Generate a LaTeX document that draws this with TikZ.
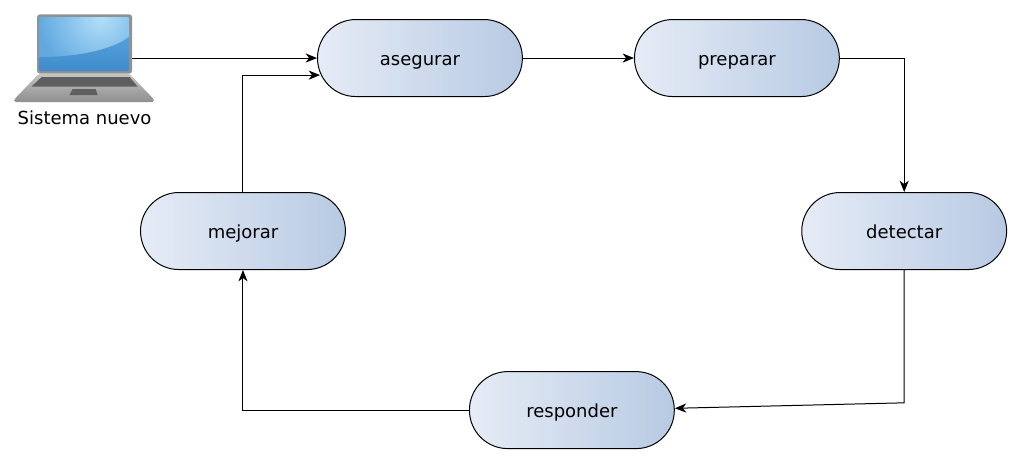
\documentclass[tikz,border=0pt]{standalone}
\usepackage{fontspec}
\setmainfont{DejaVu Sans}
\usetikzlibrary{positioning,arrows.meta}
\definecolor{PhaseLight}{HTML}{E6ECF6}
\definecolor{PhaseDark}{HTML}{B7CAE3}
\definecolor{FrameGray}{HTML}{8F9193}
\definecolor{BaseLight}{HTML}{C4C4C4}
\definecolor{BaseDark}{HTML}{8E8E8E}
\definecolor{KeyGray}{HTML}{5F5F5F}
\definecolor{ScreenLight}{HTML}{B4DFFA}
\definecolor{ScreenMid}{HTML}{62A9E0}
\definecolor{ScreenLow}{HTML}{559FDB}
\definecolor{ScreenDeep}{HTML}{3F8BCB}

\begin{document}
\begin{tikzpicture}[
  font=\fontsize{13.5}{16}\selectfont,
  on grid,
  phase/.style={draw=black, line width=0.75pt, rounded corners=1.01cm, left color=PhaseLight, right color=PhaseDark, minimum width=5.4cm, minimum height=2.03cm, text height=13.5pt, text depth=3pt},
  arrow/.style={-{Stealth[length=3mm, width=2.4mm, inset=0.9mm]}, line width=0.75pt, color=black},
  screenframe/.style={fill=FrameGray, rounded corners=2pt, minimum width=2.5cm, minimum height=1.56cm, inner sep=0pt}
]
  \useasboundingbox (-11.07,1.53) rectangle (15.87,-10.70);

  % Phases of the cycle, clockwise.
  \node[phase] (asegurar) at (0,0) {asegurar};
  \node[phase, right=8.355cm of asegurar] (preparar) {preparar};
  \node[phase, below right=4.56cm and 4.41cm of preparar] (detectar) {detectar};
  \node[phase, below left=4.72cm and 8.76cm of detectar] (responder) {responder};
  \node[phase, above left=4.72cm and 8.67cm of responder] (mejorar) {mejorar};

  % Laptop icon, pixel offsets from the middle of the screen.
  \node[screenframe, above left=0.37cm and 8.84cm of asegurar] (laptop) {};
  \begin{scope}[shift={(laptop.center)}, x=0.02636cm, y=-0.02636cm]
    \shade[top color=BaseLight, bottom color=BaseDark, rounded corners=1pt]
      (-46,30) -- (45,30) -- (69,55) -- (69,58) -- (-70,58) -- (-70,55) -- cycle;
    \fill[KeyGray] (-43,33) -- (45,33) -- (53,42.5) -- (-53,42.5) -- cycle;
    \fill[KeyGray] (-12,45) -- (11,45) -- (13,51) -- (-15,51) -- cycle;
    \begin{scope}
      \clip[rounded corners=1.5pt] (-45.5,-27) rectangle (44.5,27);
      \fill[ScreenMid] (-45.5,-27) rectangle (44.5,27);
      \shade[inner color=ScreenLight, outer color=ScreenMid] (16,-27) circle (62);
      \shade[top color=ScreenLow, bottom color=ScreenDeep]
        (-45.5,13) .. controls (-10,13) and (25,7) .. (44.5,-7) -- (44.5,27) -- (-45.5,27) -- cycle;
    \end{scope}
  \end{scope}
  \node[below=1.95cm of laptop] (nuevo) {Sistema nuevo};

  \coordinate[below right=0.45cm and 0.08cm of asegurar.west] (aseguin);
  \coordinate[below=3.5cm of detectar.south] (detectbend);

  \draw[arrow] (laptop.east |- asegurar.west) -- (asegurar.west);
  \draw[arrow] (asegurar) -- (preparar);
  \draw[arrow] (preparar.east) -| (detectar.north);
  \draw[arrow] (detectar.south) -- (detectbend) -- (responder.1.3);
  \draw[arrow] (responder.west) -| (mejorar.south);
  \draw[arrow] (mejorar.north) |- (aseguin);
\end{tikzpicture}
\end{document}
